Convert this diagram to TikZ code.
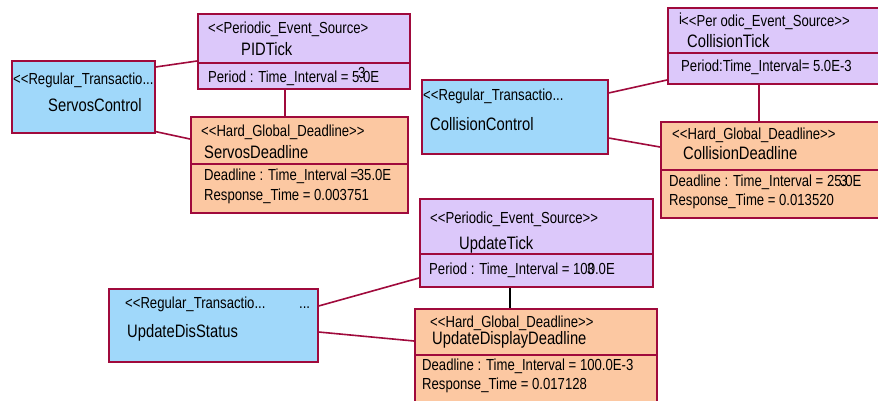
\documentclass[tikz,border=0pt]{standalone}
\usepackage{fontspec}
\setmainfont[FakeStretch=0.82,Ligatures=TeXOff]{Liberation Sans}
\definecolor{umlline}{RGB}{160,10,60}
\definecolor{tickfill}{RGB}{220,200,250}
\definecolor{trfill}{RGB}{160,216,250}
\definecolor{dlfill}{RGB}{252,200,162}
\tikzset{
  umlpart/.style={draw=umlline, line width=1.6pt, rectangle, inner sep=0pt, anchor=north west},
  tickpart/.style={umlpart, fill=tickfill},
  trpart/.style={umlpart, fill=trfill},
  dlpart/.style={umlpart, fill=dlfill},
  lbl/.style={anchor=base west, inner sep=0pt, font=\fontsize{16}{18}\selectfont},
  cname/.style={anchor=base west, inner sep=0pt, font=\fontsize{18}{20}\selectfont},
  link/.style={draw=umlline, line width=1.6pt},
  blacklink/.style={draw=black, line width=1.6pt}
}
\begin{document}
\begin{tikzpicture}[x=1pt,y=-1pt]
\useasboundingbox (0,0) rectangle (878,400);
\fill[white] (0,0) rectangle (878,400);
\clip (0,0) rectangle (878,400);

% ---------- Servos transaction ----------
\node[tickpart, minimum width=212, minimum height=49] (pidH) at (197,13) {};
\node[tickpart, minimum width=212, minimum height=26] (pidA) at (197,62) {};
\node[lbl]   (pidS) at (208,33) {<<Periodic\_Event\_Source>};
\node[cname] (pidN) at (241,55) {PIDTick};
\node[lbl]   (pidP) at (208,82) {Period : Time\_Interval = 5.0E};
\node[lbl]   (pidX) at (358,78) {3};

\node[trpart, minimum width=143, minimum height=72] (sc) at (11,60) {};
\node[lbl]   (scS) at (13,84) {<<Regular\_Transactio...};
\node[cname] (scN) at (48,111) {ServosControl};

\node[dlpart, minimum width=217, minimum height=47] (sdH) at (190,116) {};
\node[dlpart, minimum width=217, minimum height=49] (sdA) at (190,163) {};
\node[lbl]   (sdS) at (201,136) {<<Hard\_Global\_Deadline>>};
\node[cname] (sdN) at (204,158) {ServosDeadline};
\node[lbl]   (sdD) at (204,180) {Deadline : Time\_Interval =\kern-1.5pt35.0E};
\node[lbl]   (sdR) at (204,200) {Response\_Time = 0.003751};

\draw[link] ([yshift=-7pt]sc.north east) -- ([yshift=1pt]pidA.north west);
\draw[link] ([yshift=2pt]sc.south east) -- ([yshift=-23pt]sdH.north west);
\coordinate (pidTap) at ([xshift=88pt]pidA.south west);
\draw[link] (pidTap) -- (pidTap |- sdH.north);

% ---------- Collision transaction ----------
\node[tickpart, minimum width=217, minimum height=45] (ctH) at (667,7) {};
\node[tickpart, minimum width=217, minimum height=31] (ctA) at (667,52) {};
\node[lbl]   (ctS) at (681,26) {<<Per odic\_Event\_Source>>};
\node[lbl]   (ctI) at (679,24) {i};
\node[cname] (ctN) at (687,47) {CollisionTick};
\node[lbl]   (ctP) at (681,71) {Period:Time\_Interval= 5.0E-3};

\node[trpart, minimum width=186, minimum height=74] (cc) at (421,79) {};
\node[lbl]   (ccS) at (423,100) {<<Regular\_Transactio...};
\node[cname] (ccN) at (430,130) {CollisionControl};

\node[dlpart, minimum width=224, minimum height=48] (cdH) at (660,121) {};
\node[dlpart, minimum width=224, minimum height=48] (cdA) at (660,169) {};
\node[lbl]   (cdS) at (672,139) {<<Hard\_Global\_Deadline>>};
\node[cname] (cdN) at (683,159) {CollisionDeadline};
\node[lbl]   (cdD) at (669,186) {Deadline : Time\_Interval = 25.0E};
\node[lbl]   (cdX) at (840,186) {3};
\node[lbl]   (cdR) at (669,205) {Response\_Time = 0.013520};

\draw[link] ([yshift=-14pt]cc.north east) -- ([yshift=-28pt]ctA.north west);
\draw[link] ([yshift=-59pt]cc.north east) -- ([yshift=-26pt]cdH.north west);
\coordinate (ctTap) at ([xshift=92pt]ctA.south west);
\draw[link] (ctTap) -- (ctTap |- cdH.north);

% ---------- Display update transaction ----------
\node[tickpart, minimum width=233, minimum height=55] (utH) at (419,198) {};
\node[tickpart, minimum width=233, minimum height=33] (utA) at (419,253) {};
\node[lbl]   (utS) at (430,223) {<<Periodic\_Event\_Source>>};
\node[cname] (utN) at (459,249) {UpdateTick};
\node[lbl]   (utP) at (429,274) {Period : Time\_Interval = 100.0E};
\node[lbl]   (utX) at (587,274) {3};

\node[trpart, minimum width=209, minimum height=73] (uds) at (108,288) {};
\node[lbl]   (udsS) at (125,308) {<<Regular\_Transactio...};
\node[lbl]   (udsE) at (299,308) {...};
\node[cname] (udsN) at (127,337) {UpdateDisStatus};

\node[dlpart, minimum width=242, minimum height=46] (uddH) at (414,308) {};
\node[dlpart, minimum width=242, minimum height=56] (uddA) at (414,354) {};
\node[lbl]   (uddS) at (430,327) {<<Hard\_Global\_Deadline>>};
\node[cname] (uddN) at (432,344) {UpdateDisplayDeadline};
\node[lbl]   (uddD) at (422,370) {Deadline : Time\_Interval = 100.0E-3};
\node[lbl]   (uddR) at (422,389) {Response\_Time = 0.017128};

\draw[link] ([yshift=-18pt]uds.north east) -- ([yshift=-25pt]utA.north west);
\draw[link] ([yshift=-44pt]uds.north east) -- ([yshift=-33pt]uddH.north west);
\coordinate (utTap) at ([xshift=91pt]utA.south west);
\draw[blacklink] (utTap) -- (utTap |- uddH.north);
\end{tikzpicture}
\end{document}
